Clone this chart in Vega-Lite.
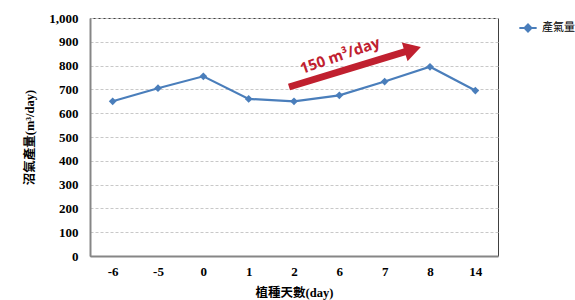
{
  "$schema": "https://vega.github.io/schema/vega-lite/v6.json",
  "width": 408,
  "height": 238,
  "autosize": {"type": "none"},
  "padding": {"left": 90, "top": 18, "right": 77, "bottom": 44},
  "background": "white",
  "config": {
    "view": {"stroke": "#404040", "strokeWidth": 1}
  },
  "datasets": {
    "gas": [
      {"day": "-6", "idx": 0, "gas": 650},
      {"day": "-5", "idx": 1, "gas": 705},
      {"day": "0", "idx": 2, "gas": 755},
      {"day": "1", "idx": 3, "gas": 660},
      {"day": "2", "idx": 4, "gas": 650},
      {"day": "6", "idx": 5, "gas": 675},
      {"day": "7", "idx": 6, "gas": 733},
      {"day": "8", "idx": 7, "gas": 795},
      {"day": "14", "idx": 8, "gas": 695}
    ],
    "arrow": [
      {"x": 4.39, "y": 710, "x2": 7.12, "y2": 868, "label": "150 m³/day", "tx": 5.515, "ty": 842}
    ]
  },
  "resolve": {"scale": {"x": "independent"}, "axis": {"y": "independent"}},
  "layer": [
    {
      "data": {"name": "gas"},
      "mark": {"type": "line", "strokeWidth": 2.2, "point": {"shape": "diamond", "size": 60, "filled": true}},
      "encoding": {
        "x": {
          "field": "day", "type": "ordinal", "sort": {"field": "idx"},
          "scale": {"type": "point", "padding": 0.5},
          "axis": {
            "title": "植種天數(day)", "labelAngle": 0, "ticks": false, "grid": false,
            "domainColor": "#868686", "domainWidth": 2, "labelPadding": 9,
            "labelFont": "Liberation Serif", "labelFontWeight": "bold", "labelFontSize": 13, "labelColor": "#000",
            "titleFont": "Liberation Serif, Noto Sans CJK TC", "titleFontSize": 12.5, "titleFontWeight": "bold",
            "titleColor": "#000", "titlePadding": 8
          }
        },
        "y": {
          "field": "gas", "type": "quantitative",
          "scale": {"domain": [0, 1000], "nice": false},
          "axis": {
            "title": "沼氣產量(m³/day)", "format": ",d", "values": [0,100,200,300,400,500,600,700,800,900,1000],
            "ticks": false, "domainColor": "#868686", "domainWidth": 2, "labelPadding": 12,
            "gridDash": [3, 2], "gridColor": "#c8c8c8", "gridWidth": 1,
            "labelFont": "Liberation Serif", "labelFontWeight": "bold", "labelFontSize": 13, "labelColor": "#000",
            "titleFont": "Liberation Serif, Noto Sans CJK TC", "titleFontSize": 12.5, "titleFontWeight": "bold",
            "titleColor": "#000", "titlePadding": 12
          }
        },
        "color": {
          "datum": "產氣量", "type": "nominal",
          "scale": {"range": ["#4a7ebb"]},
          "legend": {
            "title": null, "orient": "none", "legendX": 428, "legendY": 0,
            "symbolType": "M-1,0L1,0M-0.4,0L0,-0.4L0.4,0L0,0.4Z", "symbolSize": 300,
            "symbolStrokeWidth": 2, "symbolFillColor": "#4a7ebb", "symbolStrokeColor": "#4a7ebb",
            "labelFont": "Noto Sans CJK TC", "labelFontSize": 11, "labelColor": "#000"
          }
        }
      }
    },
    {
      "data": {"name": "arrow"},
      "mark": {"type": "rule", "strokeWidth": 7, "color": "#c0202f", "strokeCap": "butt"},
      "encoding": {
        "x": {"field": "x", "type": "quantitative", "scale": {"domain": [0, 9], "nice": false, "zero": false}, "axis": null},
        "y": {"field": "y", "type": "quantitative", "scale": {"domain": [0, 1000], "nice": false}, "axis": null},
        "x2": {"field": "x2"},
        "y2": {"field": "y2"}
      }
    },
    {
      "data": {"name": "arrow"},
      "mark": {"type": "point", "shape": "triangle-right", "filled": true, "size": 380, "angle": -17, "color": "#c0202f", "opacity": 1},
      "encoding": {
        "x": {"field": "x2", "type": "quantitative", "scale": {"domain": [0, 9], "nice": false, "zero": false}, "axis": null},
        "y": {"field": "y2", "type": "quantitative", "scale": {"domain": [0, 1000], "nice": false}, "axis": null}
      }
    },
    {
      "data": {"name": "arrow"},
      "mark": {"type": "text", "angle": -19, "font": "Open Sans", "fontWeight": "bold", "fontSize": 15, "color": "#c0202f"},
      "encoding": {
        "x": {"field": "tx", "type": "quantitative", "scale": {"domain": [0, 9], "nice": false, "zero": false}, "axis": null},
        "y": {"field": "ty", "type": "quantitative", "scale": {"domain": [0, 1000], "nice": false}, "axis": null},
        "text": {"field": "label"}
      }
    }
  ]
}
